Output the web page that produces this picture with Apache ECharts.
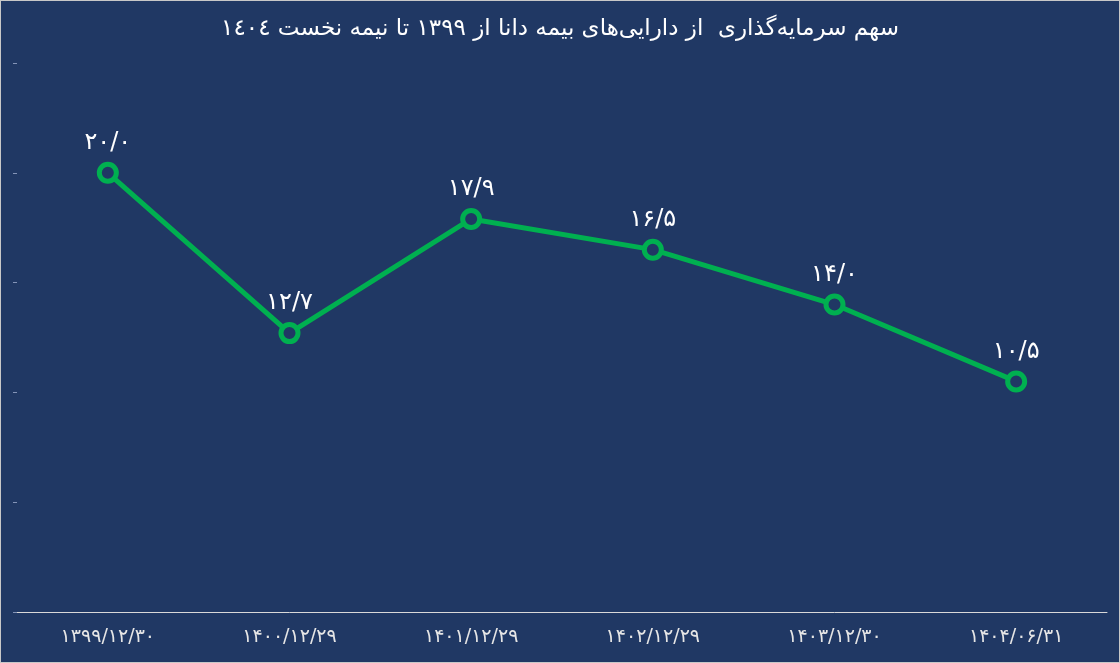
<!DOCTYPE html>
<html>
<head>
  <meta charset="UTF-8">
  <title>سهم سرمایه‌گذاری</title>
  <script src="https://cdn.jsdelivr.net/npm/echarts@6/dist/echarts.min.js"></script>
  <style>
    html, body {
      margin: 0;
      padding: 0;
      width: 1120px;
      height: 663px;
      background: #203864;
    }
    #chart {
      box-sizing: border-box;
      width: 1120px;
      height: 663px;
      border: 1px solid #c8c8c8;
      background: #203864;
    }
  </style>
</head>
<body>
  <div id="chart"></div>
  <script>
    // داده‌ها
    const titleText = 'سهم سرمایه‌گذاری  از دارایی‌های بیمه دانا از ۱۳۹۹ تا نیمه نخست ۱٤۰٤';
    const dates = ['۱۳۹۹/۱۲/۳۰', '۱۴۰۰/۱۲/۲۹', '۱۴۰۱/۱۲/۲۹', '۱۴۰۲/۱۲/۲۹', '۱۴۰۳/۱۲/۳۰', '۱۴۰۴/۰۶/۳۱'];
    const shares = [20.0, 12.7, 17.9, 16.5, 14.0, 10.5];

    const faDigits = '۰۱۲۳۴۵۶۷۸۹';
    function toFa(v) {
      return v.toFixed(1).replace('.', '/').replace(/\d/g, d => faDigits[d]);
    }

    const font = "'DejaVu Sans', 'Noto Sans', sans-serif";

    const chart = echarts.init(document.getElementById('chart'));
    chart.setOption({
      backgroundColor: '#203864',
      title: {
        text: titleText,
        left: 'center',
        top: 12,
        textStyle: {
          color: '#ffffff',
          fontSize: 23,
          fontWeight: 'normal',
          fontFamily: font
        }
      },
      grid: {
        left: 16,
        right: 12,
        top: 62,
        bottom: 50
      },
      xAxis: {
        type: 'category',
        data: dates,
        boundaryGap: true,
        axisLine: { lineStyle: { color: '#d9d9d9', width: 1 } },
        axisTick: { show: false },
        axisLabel: {
          color: '#e6e6e6',
          fontSize: 19,
          margin: 16,
          fontFamily: font
        }
      },
      yAxis: {
        type: 'value',
        min: 0,
        max: 25,
        interval: 5,
        axisLine: { show: false },
        axisTick: { show: true, length: 4, lineStyle: { color: '#8494b8' } },
        axisLabel: { show: false },
        splitLine: { show: false }
      },
      series: [{
        type: 'line',
        data: shares,
        symbol: 'circle',
        symbolSize: 17,
        lineStyle: { color: '#00b050', width: 5 },
        itemStyle: {
          color: '#203864',
          borderColor: '#00b050',
          borderWidth: 5
        },
        label: {
          show: true,
          position: 'top',
          distance: 7,
          color: '#ffffff',
          fontSize: 24,
          fontFamily: font,
          formatter: p => toFa(p.value)
        },
        z: 3
      }]
    });
  </script>
</body>
</html>
